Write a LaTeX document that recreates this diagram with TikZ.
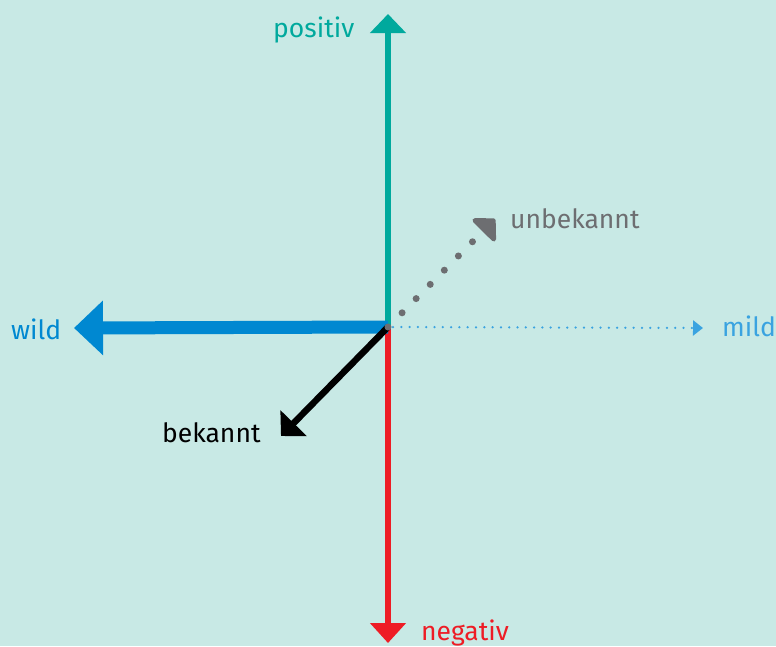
\documentclass[tikz,border=0pt]{standalone}
\usepackage{fontspec}
\setmainfont{Fira Sans}
\usetikzlibrary{arrows.meta}
\definecolor{bg}{HTML}{C8E9E5}
\definecolor{cgreen}{HTML}{00A99D}
\definecolor{cblue}{HTML}{0088D1}
\definecolor{cred}{HTML}{EE1C25}
\definecolor{cgray}{HTML}{6D6E71}
\definecolor{clight}{HTML}{3AA3E0}
\tikzset{
  lbl/.style={inner sep=0pt, anchor=base west, font=\fontsize{26.5}{30}\selectfont},
}
\begin{document}
\begin{tikzpicture}[x=1pt,y=-1pt]
\useasboundingbox (0,0) rectangle (776,646);
\fill[bg] (0,0) rectangle (776,646);
\coordinate (O) at (388,327);
\coordinate (top) at (388,14);
\coordinate (bot) at (388,643);
\coordinate (left) at (74,328);
\coordinate (right) at (703,328);
\coordinate (bk) at (281,436);
\coordinate (ub) at (495,219);
% axes
\draw[cgreen, line width=6.5pt, -{Triangle[length=19pt,width=35pt]}] (O) -- (top);
\draw[cred, line width=6.5pt, -{Triangle[length=20pt,width=35pt]}] (O) -- (bot);
\draw[cblue, line width=13pt, -{Triangle[length=29pt,width=53pt]}] (O) -- (left);
\draw[clight, line width=2.5pt, line cap=round, dash pattern=on 0pt off 8.3pt, -{Triangle[length=10pt,width=15pt]}] ([xshift=5pt]O) -- (right);
\draw[black, line width=6.5pt, -{Triangle[length=18pt,width=36pt]}] (O) -- (bk);
\draw[cgray, line width=7pt, line cap=round, dash pattern=on 0pt off 20pt, -{Triangle[length=18.5pt,width=37pt,round=false]}] (O) -- (ub);
% labels
\node[lbl, text=cgreen] (lpos) at (273,37) {positiv};
\node[lbl, text=cgray] (lunb) at (510,228) {unbekannt};
\node[lbl, text=cblue] (lwild) at (11,339) {wild};
\node[lbl, text=clight] (lmild) at (722,336) {mild};
\node[lbl, text=black] (lbek) at (162,442) {bekannt};
\node[lbl, text=cred] (lneg) at (421,640) {negativ};
\end{tikzpicture}
\end{document}
